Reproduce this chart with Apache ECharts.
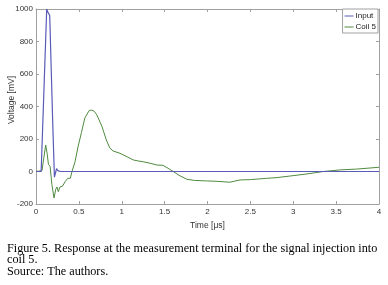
<!DOCTYPE html>
<html><head><meta charset="utf-8">
<script src="https://cdn.jsdelivr.net/npm/echarts@6/dist/echarts.min.js"></script>
<style>html,body{margin:0;padding:0;background:#fff}#c{width:388px;height:285px}</style>
</head><body><div id="c"></div>
<script>
var inputT = [0,0.06,0.125,0.135,0.16,0.175,0.195,0.215,0.24,0.255,0.27,0.285,0.3,0.315,0.33,0.35,0.6,0.62,0.64,0.66,0.68,0.7,0.72,0.74,0.76,1.27,1.28,1.29,1.88,1.9,1.92,1.94,2.3,2.31,2.32,3.58,3.6,3.62,3.64,4.0];
var inputV = [0,0,1000,985,960,950,300,-35,18,5,12,0,10,0,5,0,0,10,0,10,0,10,0,8,0,0,10,0,0,10,0,8,0,8,0,0,8,0,8,0];
var coilT = [0,0.07,0.09,0.113,0.13,0.145,0.165,0.185,0.21,0.23,0.245,0.26,0.28,0.295,0.31,0.34,0.37,0.4,0.42,0.455,0.49,0.53,0.57,0.62,0.65,0.68,0.71,0.77,0.82,0.86,0.9,0.98,1.06,1.135,1.19,1.25,1.33,1.41,1.48,1.54,1.6,1.68,1.76,1.85,1.99,2.1,2.26,2.38,2.5,2.69,2.8,2.96,3.16,3.35,3.55,3.74,4.0];
var coilV = [0,5,80,163,110,45,30,-80,-163,-110,-95,-124,-95,-83,-90,-62,-42,-42,0,60,152,240,330,375,378,370,348,276,194,145,126,112,91,71,65,60,51,40,38,20,0,-27,-48,-55,-58,-60,-66,-52,-50,-42,-38,-28,-15,0,10,15,26];
var xTicks = [0,0.5,1,1.5,2,2.5,3,3.5,4];
var yTicks = [-200,0,200,400,600,800,1000];
var seriesNames = ['Input','Coil 5'];
var yTitle = 'Voltage [mV]';
var xTitle = 'Time [\u03bcs]';
var captionLines = ['Figure 5. Response at the measurement terminal for the signal injection into','coil 5.','Source: The authors.'];

function pairs(t,v){return t.map(function(x,i){return [x,v[i]];});}
var axisCol = '#a0a0a0';
var tickFont = {fontFamily:'Liberation Sans', fontSize:8, color:'#333'};
var chart = echarts.init(document.getElementById('c'), null, {renderer:'canvas'});
var graphics = captionLines.map(function(s,i){
  return {type:'text', left:7, top:243+i*11.2, style:{text:s, font:'12.2px "Liberation Serif"', fill:'#000'}};
});
graphics.push({type:'text', x:11.5, y:100, rotation:Math.PI/2,
  style:{text:yTitle, font:'8.5px "Liberation Sans"', fill:'#333', align:'center', verticalAlign:'middle'}});
chart.setOption({
  animation:false,
  tooltip:{show:false},
  grid:{left:36, top:9, right:9, bottom:81, containLabel:false, outerBoundsMode:'none'},
  legend:{
    data:seriesNames, orient:'vertical', right:10, top:9,
    itemWidth:9, itemHeight:1, itemGap:3,
    icon:'rect',
    backgroundColor:'#fff', borderColor:axisCol, borderWidth:1, borderRadius:0,
    padding:[3,2,2,2],
    textStyle:{fontFamily:'Liberation Sans', fontSize:8, color:'#222', padding:[0,0,0,-3]}
  },
  xAxis:[{
    type:'value', min:0, max:4, interval:0.5,
    name:xTitle, nameLocation:'middle', nameGap:14,
    nameTextStyle:{fontFamily:'Liberation Sans', fontSize:8.5, color:'#333'},
    axisLine:{show:true, onZero:false, lineStyle:{color:axisCol}},
    axisTick:{show:true, inside:true, length:3, lineStyle:{color:axisCol}},
    axisLabel:Object.assign({margin:4, formatter:function(v){return xTicks.indexOf(v)>=0?String(v):'';}}, tickFont),
    splitLine:{show:false}, axisPointer:{show:false}
  },{
    type:'value', min:0, max:4, interval:0.5, position:'top',
    axisLine:{show:true, onZero:false, lineStyle:{color:axisCol}},
    axisTick:{show:true, inside:true, length:3, lineStyle:{color:axisCol}},
    axisLabel:{show:false}, splitLine:{show:false}, axisPointer:{show:false}
  }],
  yAxis:[{
    type:'value', min:-200, max:1000, interval:200,
    axisLine:{show:true, onZero:false, lineStyle:{color:axisCol}},
    axisTick:{show:true, inside:true, length:3, lineStyle:{color:axisCol}},
    axisLabel:Object.assign({margin:3, formatter:function(v){return yTicks.indexOf(v)>=0?String(v):'';}}, tickFont),
    splitLine:{show:false}, axisPointer:{show:false}
  },{
    type:'value', min:-200, max:1000, interval:200, position:'right',
    axisLine:{show:true, onZero:false, lineStyle:{color:axisCol}},
    axisTick:{show:true, inside:true, length:3, lineStyle:{color:axisCol}},
    axisLabel:{show:false}, splitLine:{show:false}, axisPointer:{show:false}
  }],
  series:[{
    name:seriesNames[0], type:'line', data:pairs(inputT,inputV), showSymbol:false, symbol:'none',
    lineStyle:{width:1.2, color:'#5a5ab8'}, itemStyle:{color:'#5a5ab8'}, z:10
  },{
    name:seriesNames[1], type:'line', data:pairs(coilT,coilV), showSymbol:false, symbol:'none',
    lineStyle:{width:1, color:'#4f8a3f'}, itemStyle:{color:'#4f8a3f'}, z:9
  }],
  graphic:graphics
});
</script></body></html>
